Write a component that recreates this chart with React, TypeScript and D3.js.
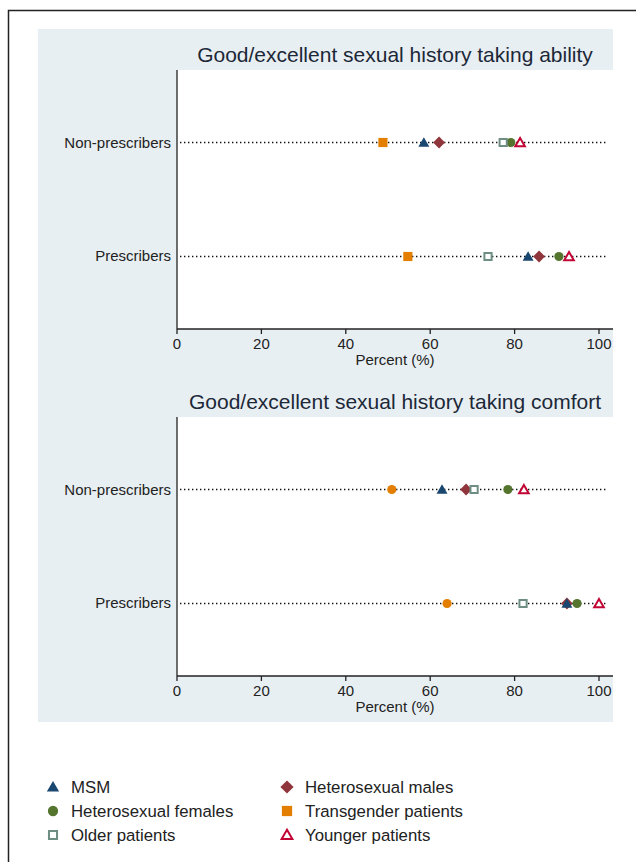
import React from "react";
import * as d3 from "d3";

const categories = ["Non-prescribers", "Prescribers"];
const groups = [
  "MSM",
  "Heterosexual males",
  "Heterosexual females",
  "Transgender patients",
  "Older patients",
  "Younger patients",
];
const abilityNonPrescribers = [58.5, 62.1, 79.1, 48.8, 77.3, 81.3];
const abilityPrescribers = [83.2, 85.8, 90.5, 54.7, 73.7, 92.9];
const comfortNonPrescribers = [62.8, 68.5, 78.4, 50.9, 70.4, 82.2];
const comfortPrescribers = [92.4, 92.4, 94.8, 64.0, 82.0, 100.0];
const xTicks = [0, 20, 40, 60, 80, 100];
const panelTitles = [
  "Good/excellent sexual history taking ability",
  "Good/excellent sexual history taking comfort",
];
const axisTitle = "Percent (%)";
const drawOrder = [1, 0, 2, 3, 4, 5];

type Sty = { kind: string; color: string; hollow: boolean };
const styles: Sty[] = [
  { kind: "triangle", color: "#1a476f", hollow: false },
  { kind: "diamond", color: "#90353b", hollow: false },
  { kind: "circle", color: "#55752f", hollow: false },
  { kind: "square", color: "#e37e00", hollow: false },
  { kind: "square", color: "#6e8e84", hollow: true },
  { kind: "triangle", color: "#c10534", hollow: true },
];

const FONT = "'Liberation Sans', Arial, Helvetica, sans-serif";

function Marker({
  x,
  y,
  s,
  kindOverride,
  scale = 1,
}: {
  x: number;
  y: number;
  s: Sty;
  kindOverride?: string;
  scale?: number;
}) {
  const kind = kindOverride || s.kind;
  let path = "";
  let rot = 0;
  if (kind === "triangle") path = d3.symbol(d3.symbolTriangle, (s.hollow ? 40 : 52) * scale)()!;
  else if (kind === "circle") path = d3.symbol(d3.symbolCircle, 66 * scale)()!;
  else if (kind === "square") path = d3.symbol(d3.symbolSquare, (s.hollow ? 52 : 84) * scale)()!;
  else if (kind === "diamond") {
    path = d3.symbol(d3.symbolSquare, 70 * scale)()!;
    rot = 45;
  }
  const dy = kind === "triangle" ? 1 : 0;
  return (
    <path
      d={path}
      transform={`translate(${x},${y + dy}) rotate(${rot})`}
      fill={s.hollow ? "white" : s.color}
      stroke={s.color}
      strokeWidth={s.hollow ? 2 : 0}
    />
  );
}

function Panel({
  top,
  title,
  rows,
  overrides,
}: {
  top: number;
  title: string;
  rows: number[][];
  overrides: (string | undefined)[];
}) {
  const left = 177;
  const right = 613;
  const plotTop = top;
  const plotBottom = top + 259;
  const x = d3.scaleLinear().domain([0, 100]).range([left, 599]);
  const y = d3.scalePoint<string>().domain(categories).range([plotTop, plotBottom]).padding(0.636);
  return (
    <g>
      <rect x={left} y={plotTop} width={right - left} height={plotBottom - plotTop} fill="white" />
      <text
        x={(left + right) / 2}
        y={plotTop - 8}
        textAnchor="middle"
        fontSize={21}
        fill="#1c2838"
        fontFamily={FONT}
      >
        {title}
      </text>
      {categories.map((c) => (
        <g key={c}>
          <line
            x1={left + 3}
            x2={608}
            y1={y(c)!}
            y2={y(c)!}
            stroke="#111"
            strokeWidth={1.4}
            strokeDasharray="1.4,2.6"
          />
          <text
            x={left - 6}
            y={y(c)! + 5}
            textAnchor="end"
            fontSize={15}
            fill="#222"
            fontFamily={FONT}
          >
            {c}
          </text>
        </g>
      ))}
      <line x1={left} x2={left} y1={plotTop} y2={plotBottom} stroke="#222" strokeWidth={1.3} />
      <line x1={left} x2={right} y1={plotBottom} y2={plotBottom} stroke="#222" strokeWidth={1.3} />
      {xTicks.map((t) => (
        <g key={t}>
          <line x1={x(t)} x2={x(t)} y1={plotBottom} y2={plotBottom + 5} stroke="#222" strokeWidth={1.3} />
          <text
            x={x(t)}
            y={plotBottom + 20}
            textAnchor="middle"
            fontSize={15}
            fill="#222"
            fontFamily={FONT}
          >
            {t}
          </text>
        </g>
      ))}
      <text
        x={(left + right) / 2}
        y={plotBottom + 36}
        textAnchor="middle"
        fontSize={15}
        fill="#222"
        fontFamily={FONT}
      >
        {axisTitle}
      </text>
      {categories.map((c, ci) =>
        drawOrder.map((gi) => (
          <Marker
            key={c + groups[gi]}
            x={x(rows[ci][gi])}
            y={y(c)!}
            s={styles[gi]}
            kindOverride={overrides[gi]}
          />
        ))
      )}
    </g>
  );
}

export default function App() {
  const legendX = [53, 287];
  const legendY = [787, 811, 835];
  return (
    <svg
      width={636}
      height={862}
      style={{ position: "absolute", left: 0, top: 0, background: "white" }}
    >
      <rect x={0} y={0} width={636} height={862} fill="white" />
      <rect x={8.5} y={10.5} width={700} height={900} fill="none" stroke="#222" strokeWidth={1.5} />
      <rect x={38} y={29} width={575} height={693} fill="#e8eff2" />
      <Panel
        top={70}
        title={panelTitles[0]}
        rows={[abilityNonPrescribers, abilityPrescribers]}
        overrides={[undefined, undefined, undefined, undefined, undefined, undefined]}
      />
      <Panel
        top={417}
        title={panelTitles[1]}
        rows={[comfortNonPrescribers, comfortPrescribers]}
        overrides={[undefined, undefined, undefined, "circle", undefined, undefined]}
      />
      {groups.map((g, i) => {
        const col = i % 2;
        const row = Math.floor(i / 2);
        return (
          <g key={g}>
            <Marker x={legendX[col]} y={legendY[row]} s={styles[i]} scale={1.25} />
            <text
              x={legendX[col] + 18}
              y={legendY[row] + 6}
              fontSize={16.8}
              fill="#222"
              fontFamily={FONT}
            >
              {g}
            </text>
          </g>
        );
      })}
    </svg>
  );
}
